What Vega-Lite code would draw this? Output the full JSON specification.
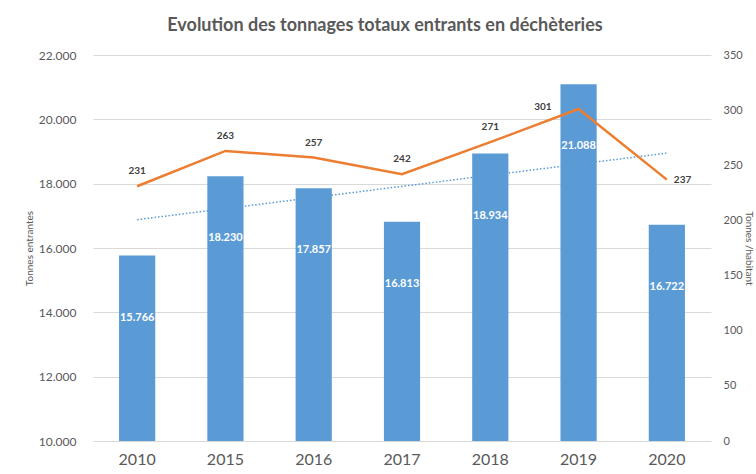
{
  "$schema": "https://vega.github.io/schema/vega-lite/v6.json",
  "width": 618,
  "height": 386,
  "autosize": {"type": "none"},
  "padding": {"left": 93, "top": 55, "right": 45, "bottom": 33},
  "background": "white",
  "config": {
    "font": "Lato",
    "view": {"stroke": null},
    "axis": {"labelColor": "#595959", "titleColor": "#595959", "labelFont": "Lato", "titleFont": "Lato"}
  },
  "title": {
    "text": "Evolution des tonnages totaux entrants en déchèteries",
    "fontSize": 18,
    "fontWeight": "bold",
    "color": "#595959",
    "font": "Lato",
    "anchor": "middle",
    "dx": -17,
    "offset": 14
  },
  "datasets": {
    "main": [
      {"annee": "2010", "tonnes": 15766, "par_hab": 231},
      {"annee": "2015", "tonnes": 18230, "par_hab": 263},
      {"annee": "2016", "tonnes": 17857, "par_hab": 257},
      {"annee": "2017", "tonnes": 16813, "par_hab": 242},
      {"annee": "2018", "tonnes": 18934, "par_hab": 271},
      {"annee": "2019", "tonnes": 21088, "par_hab": 301},
      {"annee": "2020", "tonnes": 16722, "par_hab": 237}
    ],
    "tendance": [
      {"annee": "2010", "tonnes": 16881},
      {"annee": "2020", "tonnes": 18951}
    ]
  },
  "encoding": {
    "x": {
      "field": "annee",
      "type": "ordinal",
      "scale": {"paddingInner": 0.59, "paddingOuter": 0.295},
      "axis": {
        "title": null,
        "labelAngle": 0,
        "labelFontSize": 16,
        "labelPadding": 10,
        "ticks": false,
        "domain": false,
        "grid": false,
        "zindex": 1
      }
    }
  },
  "layer": [
    {
      "layer": [
        {
          "data": {"name": "main"},
          "mark": {"type": "bar", "color": "#5B9BD5", "clip": true},
          "encoding": {
            "y": {
              "field": "tonnes",
              "type": "quantitative",
              "scale": {"domain": [10000, 22000], "zero": false, "nice": false},
              "axis": {
                "orient": "left",
                "title": "Tonnes entrantes",
                "titleFontSize": 10,
                "titleFontWeight": "normal",
                "titlePadding": 4,
                "values": [10000, 12000, 14000, 16000, 18000, 20000, 22000],
                "labelExpr": "replace(format(datum.value, ','), ',', '.')",
                "labelFontSize": 12,
                "labelPadding": 17,
                "ticks": false,
                "domain": false,
                "grid": true,
                "gridColor": "#d9d9d9",
                "gridWidth": 1
              }
            }
          }
        },
        {
          "data": {"name": "main"},
          "transform": [
            {"calculate": "replace(format(datum.tonnes, ','), ',', '.')", "as": "etiquette"}
          ],
          "mark": {"type": "text", "color": "white", "fontWeight": "bold", "fontSize": 11, "baseline": "middle", "dy": 62},
          "encoding": {
            "y": {"field": "tonnes", "type": "quantitative"},
            "text": {"field": "etiquette"}
          }
        },
        {
          "data": {"name": "tendance"},
          "mark": {"type": "line", "color": "#5B9BD5", "strokeDash": [1.5, 2], "strokeWidth": 1.5},
          "encoding": {
            "y": {"field": "tonnes", "type": "quantitative"}
          }
        }
      ]
    },
    {
      "data": {"name": "main"},
      "layer": [
        {
          "mark": {"type": "line", "color": "#ED7D31", "strokeWidth": 2.5},
          "encoding": {
            "y": {
              "field": "par_hab",
              "type": "quantitative",
              "scale": {"domain": [0, 350], "nice": false},
              "axis": {
                "orient": "right",
                "title": "Tonnes /habitant",
                "titleFontSize": 10,
                "titleFontWeight": "normal",
                "titlePadding": 1,
                "values": [0, 50, 100, 150, 200, 250, 300, 350],
                "labelFontSize": 11,
                "labelPadding": 12,
                "ticks": false,
                "domain": false,
                "grid": false
              }
            }
          }
        },
        {
          "transform": [{"filter": "datum.annee != '2019' && datum.annee != '2020'"}],
          "mark": {"type": "text", "color": "#404040", "fontWeight": "bold", "fontSize": 10, "dy": -15, "baseline": "middle"},
          "encoding": {
            "y": {"field": "par_hab", "type": "quantitative"},
            "text": {"field": "par_hab"}
          }
        },
        {
          "transform": [{"filter": "datum.annee == '2019'"}],
          "mark": {"type": "text", "color": "#404040", "fontWeight": "bold", "fontSize": 10, "dx": -27, "dy": -2, "align": "right", "baseline": "middle"},
          "encoding": {
            "y": {"field": "par_hab", "type": "quantitative"},
            "text": {"field": "par_hab"}
          }
        },
        {
          "transform": [{"filter": "datum.annee == '2020'"}],
          "mark": {"type": "text", "color": "#404040", "fontWeight": "bold", "fontSize": 10, "dx": 7, "align": "left", "baseline": "middle"},
          "encoding": {
            "y": {"field": "par_hab", "type": "quantitative"},
            "text": {"field": "par_hab"}
          }
        }
      ]
    }
  ],
  "resolve": {"scale": {"y": "independent"}}
}
